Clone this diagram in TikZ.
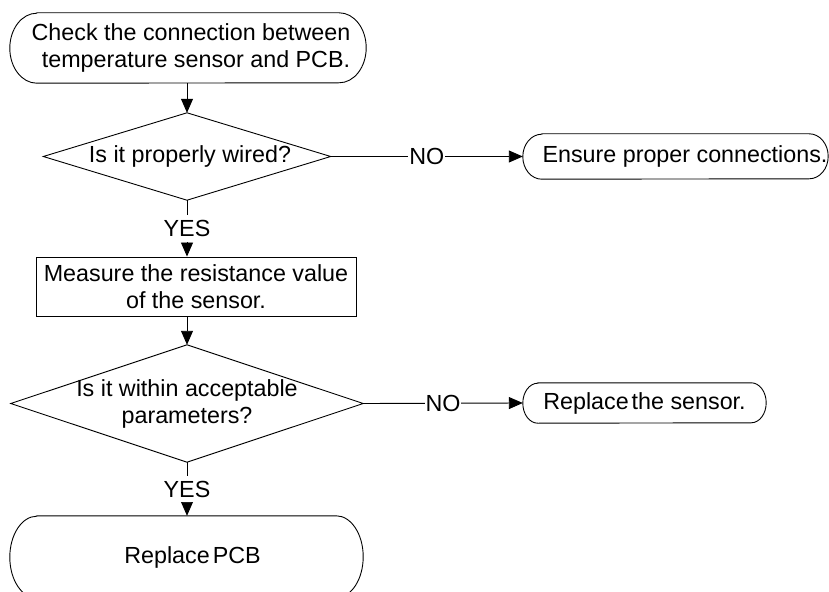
\documentclass[tikz,border=0pt]{standalone}
\usepackage{fontspec}
\setmainfont{Liberation Sans}
\usetikzlibrary{arrows.meta}
% outline of a terminator: straight top and bottom, elliptical ends
\newcommand\drawterm[3]{%
  \draw[outl] ([xshift=#2]#1.north west) -- ([xshift=-#2]#1.north east)
    arc[start angle=90,end angle=-90,x radius=#2,y radius=#3]
    -- ([xshift=#2]#1.south west)
    arc[start angle=270,end angle=90,x radius=#2,y radius=#3] -- cycle;}
% outline of a decision diamond
\newcommand\drawdecision[1]{%
  \draw[outl] (#1.west) -- (#1.north) -- (#1.east) -- (#1.south) -- cycle;}
\begin{document}
\begin{tikzpicture}[x=1bp,y=-1bp,
  txt/.style={rectangle,inner sep=0pt,align=center,
    font=\fontsize{23.3bp}{27bp}\selectfont},
  outl/.style={line width=0.9bp,draw=black},
  procbox/.style={txt,draw=black,line width=0.9bp},
  arr/.style={line width=0.9bp,-{Triangle[length=14bp,width=12bp]}},
  lbl/.style={fill=white,inner xsep=1bp,inner ysep=1bp,
    font=\fontsize{23.3bp}{27bp}\selectfont},
  vlbl/.style={lbl,inner ysep=5bp}]
\useasboundingbox (0,0) rectangle (829,592);
\clip (0,0) rectangle (829,592);

\node[txt,minimum width=356bp,minimum height=70bp] (start) at (188,48)
  {\hspace*{6bp}Check the connection between\\\hspace*{16bp}temperature sensor and PCB.};
\node[txt,minimum width=287bp,minimum height=87bp] (d1) at (187,156.5)
  {\hspace*{6bp}Is it properly wired?};
\node[txt,minimum width=305bp,minimum height=45bp] (ensure) at (675.5,156.5)
  {\hspace*{19bp}Ensure proper connections.};
\node[procbox,minimum width=320bp,minimum height=59bp] (meas) at (196,286.5)
  {Measure the resistance value\\of the sensor.};
\node[txt,minimum width=352bp,minimum height=117bp] (d2) at (187,403.5)
  {Is it within acceptable\\parameters?};
\node[txt,minimum width=243bp,minimum height=40bp] (sensor) at (644.5,403)
  {Replace\hspace{3bp}the sensor.};
\node[txt,minimum width=353bp,minimum height=82bp] (pcb) at (186.5,557)
  {\hspace*{12bp}Replace\hspace{3bp}PCB};

\drawterm{start}{27bp}{35bp}
\drawterm{ensure}{19bp}{22.5bp}
\drawterm{sensor}{15bp}{20bp}
\drawterm{pcb}{27bp}{41bp}
\drawdecision{d1}
\drawdecision{d2}

\draw[arr] (d1.north |- start.south) -- (d1.north);
\draw[arr] (d1.south) -- node[vlbl]{YES} (d1.south |- meas.north);
\draw[arr] (d1.south |- meas.south) -- (d2.north);
\draw[arr] (d2.south) -- node[vlbl]{YES} (d2.south |- pcb.north);
\draw[arr] (d1.east) -- node[lbl]{NO} (ensure.west);
\draw[arr] (d2.east) -- node[lbl]{NO} (sensor.west);
\end{tikzpicture}
\end{document}
